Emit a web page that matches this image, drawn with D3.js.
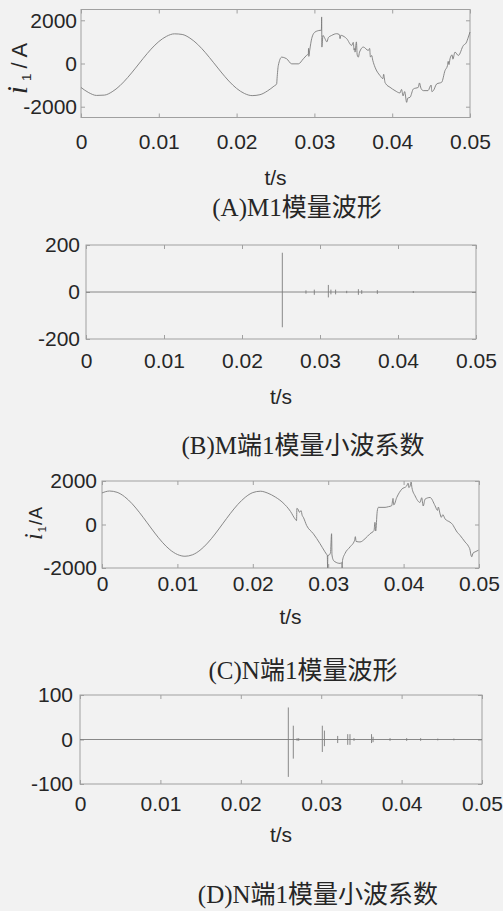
<!DOCTYPE html>
<html>
<head>
<meta charset="utf-8">
<script src="https://cdn.jsdelivr.net/npm/d3@7"></script>
<style>
  body { margin: 0; background: #f2f2f2; }
  svg { display: block; }
</style>
</head>
<body>
<svg id="chart" width="503" height="911"></svg>
<script>
// ---- data ----
const xTicks = [0, 0.01, 0.02, 0.03, 0.04, 0.05];
const xTickLabels = ["0", "0.01", "0.02", "0.03", "0.04", "0.05"];

// (A) M-end mode-1 current, [t (s), i (A)]
const waveA = [
  [0, -1110], [0.001, -1350], [0.002, -1478], [0.003, -1464], [0.004, -1309],
  [0.005, -1029], [0.006, -650], [0.007, -215], [0.008, 238], [0.009, 663],
  [0.010, 1015], [0.011, 1260], [0.012, 1373], [0.013, 1345], [0.014, 1176],
  [0.015, 885], [0.016, 499], [0.017, 58], [0.018, -392], [0.019, -811],
  [0.020, -1154], [0.021, -1387], [0.022, -1487], [0.023, -1444], [0.024, -1263],
  [0.0248, -1050], [0.02515, -946], [0.0252, -700], [0.02536, -93], [0.0258, 294],
  [0.0262, 260], [0.02644, 217], [0.02708, -16], [0.02794, -16], [0.02858, 217],
  [0.0290, 380], [0.02922, 450], [0.02925, 700], [0.02928, 330], [0.0294, 620],
  [0.02965, 1150], [0.03008, 1457], [0.03072, 1535], [0.0309, 1540], [0.03093, 2155],
  [0.03096, 760], [0.0311, 1300], [0.03136, 1150], [0.0316, 1000], [0.0318, 1200],
  [0.03222, 1300], [0.03286, 1380], [0.0332, 1340], [0.0333, 1150], [0.0334, 1310],
  [0.0335, 1300], [0.03415, 1150], [0.03479, 837], [0.0350, 980], [0.0351, 620],
  [0.0352, 700], [0.03522, 527], [0.0354, 1000], [0.0355, 400], [0.03565, 294],
  [0.0358, 527], [0.03629, 760], [0.03693, 605], [0.0371, 700], [0.0372, 300],
  [0.03736, 372], [0.0375, 150], [0.03779, -171], [0.03843, -558], [0.0388, -700],
  [0.0389, -500], [0.03907, -868], [0.0392, -950], [0.03972, -1101], [0.04036, -1256],
  [0.041, -1364], [0.0412, -1200], [0.0414, -1500], [0.0416, -1300], [0.04186, -1798],
  [0.042, -1600], [0.04229, -1566], [0.04272, -1178], [0.04336, -1101], [0.0435, -900],
  [0.0437, -1150], [0.044, -1256], [0.0446, -1256], [0.045, -1000], [0.0451, -1300],
  [0.04529, -1256], [0.04572, -946], [0.04636, -868], [0.04679, -325], [0.0471, -100],
  [0.0472, 100], [0.0473, -50], [0.04743, 217], [0.0477, 400], [0.0478, 200],
  [0.04807, 527], [0.0485, 372], [0.04915, 837], [0.0495, 950], [0.04979, 1223],
  [0.05, 1457]
];

// (C) N-end mode-1 current, [t (s), i (A)]
const waveC = [
  [0, 1450], [0.001, 1539], [0.002, 1480], [0.003, 1278], [0.004, 953],
  [0.005, 538], [0.006, 76], [0.007, -391], [0.008, -816], [0.009, -1157],
  [0.010, -1378], [0.011, -1460], [0.012, -1393], [0.013, -1184], [0.014, -854],
  [0.015, -436], [0.016, 30], [0.017, 496], [0.018, 918], [0.019, 1252],
  [0.020, 1467], [0.021, 1530], [0.022, 1440], [0.023, 1260], [0.024, 1000],
  [0.025, 600], [0.0256, 258], [0.0258, 180], [0.02585, 742], [0.0260, 700],
  [0.0262, 560], [0.0264, 640], [0.02655, 420], [0.0267, 333], [0.02714, -45],
  [0.02803, -424], [0.02891, -879], [0.02957, -1258], [0.0298, -1380], [0.02988, -1420],
  [0.02992, -2000], [0.02995, -1420], [0.0301, -1409], [0.0303, -1300], [0.03045, -424],
  [0.0305, -1400], [0.0307, -1650], [0.0309, -1712], [0.03157, -1788], [0.0318, -1760],
  [0.03185, -2000], [0.0319, -1650], [0.03223, -1333], [0.0329, -1030], [0.0335, -727],
  [0.0336, -560], [0.0337, -780], [0.03422, -803], [0.03489, -652], [0.03555, -424],
  [0.03608, -273], [0.0362, 100], [0.0363, -300], [0.0365, 600], [0.03665, 788],
  [0.03754, 788], [0.0380, 820], [0.03842, 864], [0.0386, 1200], [0.0387, 900],
  [0.03909, 1242], [0.03975, 1621], [0.04041, 1773], [0.0406, 1900], [0.0407, 1700],
  [0.04086, 1773], [0.0410, 1954], [0.0411, 1700], [0.04152, 1318], [0.04218, 1015],
  [0.0424, 1230], [0.0426, 850], [0.04285, 1167], [0.04351, 1242], [0.04417, 864],
  [0.0445, 650], [0.0446, 800], [0.04484, 485], [0.0450, 330], [0.0452, 450],
  [0.0455, 258], [0.04616, 106], [0.0465, 0], [0.0467, -120], [0.04683, -197],
  [0.0470, -300], [0.04749, -500], [0.04815, -803], [0.0486, -1000], [0.04882, -1182],
  [0.0489, -1350], [0.04904, -1485], [0.0492, -1320], [0.04948, -1258], [0.04992, -1182]
];

// (B) M-end wavelet coefficients: spikes [t, max, min]
const spikesB = [
  [0.02517, 167, -150], [0.0282, 7, -7], [0.02927, 10, -12], [0.03107, 30, -23],
  [0.0314, 10, -10], [0.032, 10, -10], [0.03342, 5, -5], [0.03492, 12, -12],
  [0.03535, 8, -8], [0.03735, 8, -8], [0.04196, 4, -4]
];

// (D) N-end wavelet coefficients: spikes [t, max, min]
const spikesD = [
  [0.02591, 72, -84], [0.02653, 31, -43], [0.0270, 3, -3], [0.0272, 3, -3],
  [0.03014, 31, -28], [0.0304, 20, -15], [0.03205, 8, -8], [0.0333, 12, -12],
  [0.03358, 12, -12], [0.03408, 3, -3], [0.03626, 12, -8], [0.03645, 6, -6],
  [0.03856, 3, -3], [0.04063, 3, -3], [0.04237, 3, -3], [0.0445, 2, -2], [0.0465, 2, -2]
];

const captions = ["(A)M1模量波形", "(B)M端1模量小波系数", "(C)N端1模量波形", "(D)N端1模量小波系数"];

// ---- layout ----
const panels = [
  { x0: 81, x1: 470, y0: 9.5, y1: 117.5, yDomain: [-2500, 2500], yTicks: [-2000, 0, 2000],
    wave: waveA, xPad: 16.5, yPad: 4, xLabelY: 178, capX: 297, capY: 207,
    yLabel: { x: 27, y: 66, size: 22, spacing: 5 } },
  { x0: 86, x1: 476, y0: 245, y1: 339, yDomain: [-200, 200], yTicks: [-200, 0, 200],
    spikes: spikesB, xPad: 14.5, yPad: 6, xLabelY: 397, capX: 303, capY: 445 },
  { x0: 102, x1: 479, y0: 481, y1: 568, yDomain: [-2000, 2000], yTicks: [-2000, 0, 2000],
    wave: waveC, xPad: 8.5, yPad: 5, xLabelY: 617, capX: 303, capY: 670,
    yLabel: { x: 42, y: 523, size: 18, spacing: 1 } },
  { x0: 80, x1: 482, y0: 695, y1: 784, yDomain: [-100, 100], yTicks: [-100, 0, 100],
    spikes: spikesD, xPad: 12.5, yPad: 7, xLabelY: 835, capX: 318, capY: 894 }
];

const sansFont = "'Liberation Sans', Arial, sans-serif";
const lineColor = "#7c7c7c";
const boxColor = "#a0a0a0";
const textColor = "#262626";

const svg = d3.select("#chart");
svg.append("rect").attr("width", 503).attr("height", 911).attr("fill", "#f2f2f2");

panels.forEach((p, k) => {
  const x = d3.scaleLinear().domain([0, 0.05]).range([p.x0, p.x1]);
  const y = d3.scaleLinear().domain(p.yDomain).range([p.y1, p.y0]);
  const g = svg.append("g");

  // axes with inward ticks (MATLAB style)
  const styleAxis = ax => {
    ax.select(".domain").remove();
    ax.selectAll(".tick line").attr("stroke", boxColor);
    ax.selectAll(".tick text").attr("fill", textColor)
      .attr("font-family", sansFont).attr("font-size", 21);
  };
  g.append("g").attr("transform", `translate(0,${p.y1})`)
    .call(d3.axisBottom(x).tickValues(xTicks).tickSizeInner(-4).tickSizeOuter(0)
      .tickPadding(p.xPad).tickFormat((d, i) => xTickLabels[i]))
    .call(styleAxis);
  g.append("g").attr("transform", `translate(0,${p.y0})`)
    .call(d3.axisTop(x).tickValues(xTicks).tickSizeInner(-4).tickSizeOuter(0).tickFormat(""))
    .call(styleAxis);
  g.append("g").attr("transform", `translate(${p.x0},0)`)
    .call(d3.axisLeft(y).tickValues(p.yTicks).tickSizeInner(-4).tickSizeOuter(0)
      .tickPadding(p.yPad).tickFormat(d => String(d)))
    .call(styleAxis);
  g.append("g").attr("transform", `translate(${p.x1},0)`)
    .call(d3.axisRight(y).tickValues(p.yTicks).tickSizeInner(-4).tickSizeOuter(0).tickFormat(""))
    .call(styleAxis);

  // box
  g.append("rect")
    .attr("x", p.x0).attr("y", p.y0)
    .attr("width", p.x1 - p.x0).attr("height", p.y1 - p.y0)
    .attr("fill", "none").attr("stroke", boxColor).attr("stroke-width", 1);

  if (p.wave) {
    const line = d3.line().x(d => x(d[0])).y(d => y(d[1])).curve(d3.curveMonotoneX);
    g.append("path").datum(p.wave)
      .attr("fill", "none").attr("stroke", lineColor).attr("stroke-width", 0.9)
      .attr("d", line);
  }
  if (p.spikes) {
    g.append("line")
      .attr("x1", x(0)).attr("x2", x(0.05)).attr("y1", y(0)).attr("y2", y(0))
      .attr("stroke", lineColor).attr("stroke-width", 0.9);
    g.selectAll(".spike").data(p.spikes).enter().append("line")
      .attr("class", "spike")
      .attr("x1", d => x(d[0])).attr("x2", d => x(d[0]))
      .attr("y1", d => y(d[1])).attr("y2", d => y(d[2]))
      .attr("stroke", lineColor).attr("stroke-width", 0.9);
  }

  // x label
  g.append("text")
    .attr("x", (p.x0 + p.x1) / 2).attr("y", p.xLabelY).attr("dy", "0.35em")
    .attr("text-anchor", "middle").attr("fill", textColor)
    .attr("font-family", sansFont).attr("font-size", 21)
    .text("t/s");

  // y label i1/A
  if (p.yLabel) {
    const t = g.append("text")
      .attr("transform", `translate(${p.yLabel.x},${p.yLabel.y}) rotate(-90)`)
      .attr("text-anchor", "middle").attr("fill", textColor)
      .attr("font-family", sansFont).attr("font-size", p.yLabel.size)
      .attr("letter-spacing", p.yLabel.spacing);
    t.append("tspan").attr("font-family", "'Liberation Serif', serif")
      .attr("font-style", "italic").attr("font-size", p.yLabel.size * 1.35).text("i");
    t.append("tspan").attr("font-size", p.yLabel.size * 0.6).attr("dy", p.yLabel.size * 0.2).text("1");
    t.append("tspan").attr("dy", -p.yLabel.size * 0.2).text("/A");
  }

  // caption
  g.append("text")
    .attr("x", p.capX).attr("y", p.capY).attr("dy", "0.36em")
    .attr("text-anchor", "middle").attr("fill", textColor)
    .attr("font-family", "'Liberation Serif', 'Noto Sans CJK SC', serif")
    .attr("font-size", 25)
    .text(captions[k]);
});
</script>
</body>
</html>
